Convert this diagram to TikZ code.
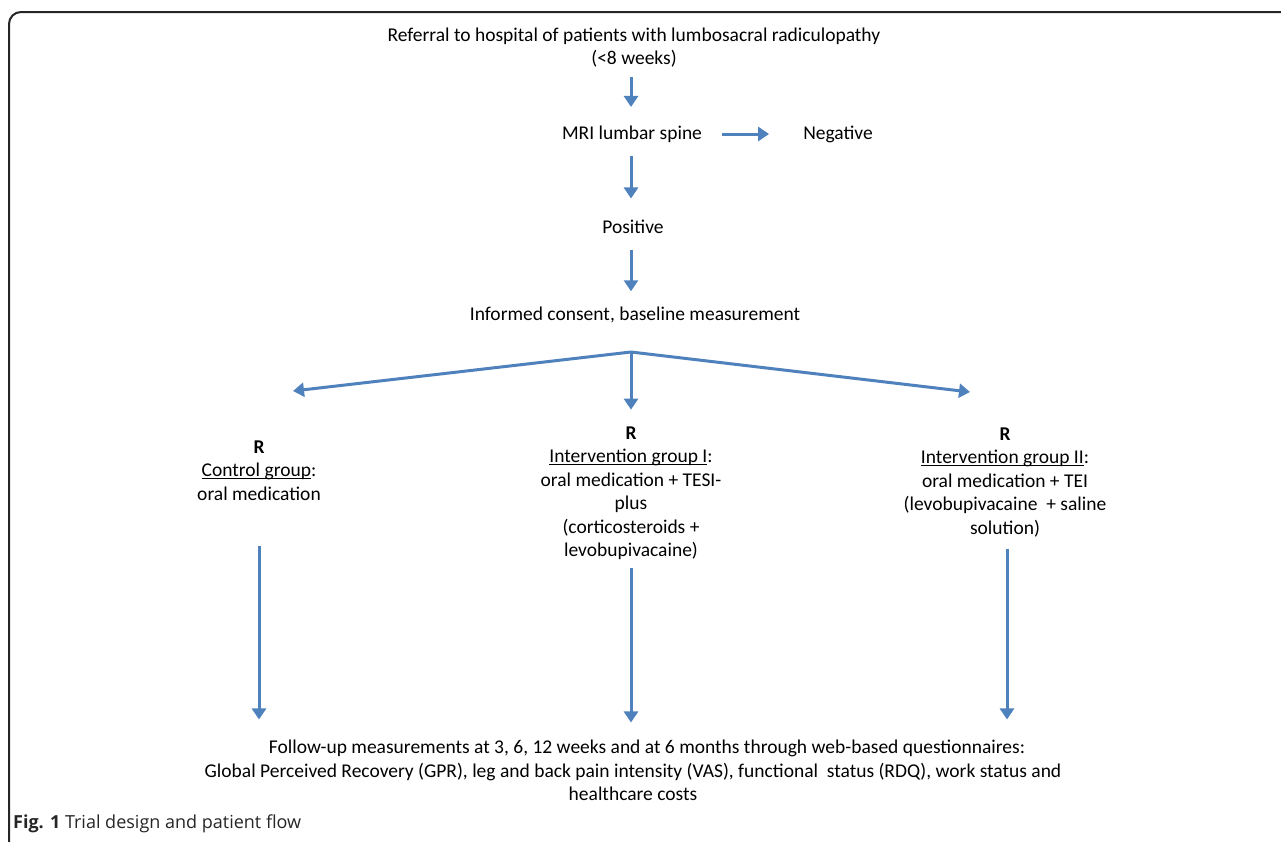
\documentclass[tikz,border=0pt]{standalone}
\usepackage{fontspec}
\setmainfont{Carlito}
\newfontfamily\capfont{Open Sans}
\usetikzlibrary{arrows.meta}
\definecolor{flowblue}{RGB}{79,129,189}
\newcommand\ulabel[1]{\underline{\smash{#1}}}
\begin{document}
\begin{tikzpicture}[x=1pt,y=-1pt,
  txt/.style={font=\fontsize{19.5}{23.5}\selectfont, inner sep=0pt, align=center},
  flow/.style={draw=flowblue, line width=3pt, -{Triangle[width=14pt,length=11pt]}},
  frame/.style={draw=black!85, line width=2pt, rounded corners=12pt}]
\useasboundingbox (0,0) rectangle (1281,841);
\draw[frame] (9,850) -- (9,12) -- (1295,12);
\node[txt] (ref) at (634,47.5) {Referral to hospital of patients with lumbosacral radiculopathy\\(<8 weeks)};
\node[txt] (mri) at (632,134) {MRI lumbar spine};
\node[txt] (neg) at (838,134) {Negative};
\node[txt] (pos) at (633,227) {Positive};
\node[txt] (ic) at (635,315) {Informed consent, baseline measurement};
\coordinate (split) at (631,352);
\coordinate (lend) at (293,391);
\coordinate (rend) at (970,392);
\node[txt] (ctrl) at (259,470.5) {\textbf{R}\\\ulabel{Control group}:\\oral medication};
\node[txt] (int1) at (631,493) {\textbf{R}\\\ulabel{Intervention group I}:\\oral medication + TESI-\\plus\\(corticosteroids +\\levobupivacaine)};
\node[txt] (int2) at (1005,482.5) {\textbf{R}\\\ulabel{Intervention group II}:\\oral medication + TEI\\(levobupivacaine~ + saline\\solution)};
\node[txt] (fu) at (633,770.5) {\hspace*{28pt}Follow-up measurements at 3, 6, 12 weeks and at 6 months through web-based questionnaires:\\Global Perceived Recovery (GPR), leg and back pain intensity (VAS), functional~ status (RDQ), work status and\\healthcare costs};
\node[anchor=base west, inner sep=0pt, font=\capfont\fontsize{18}{21}\selectfont, text=black!85] (cap) at (13,828) {\textbf{Fig. 1} Trial design and patient flow};
\draw[flow, shorten <=9.5pt, shorten >=18.5pt] (ref.south -| split) -- (mri.north -| split);
\draw[flow, shorten <=13.5pt, shorten >=21.5pt] (mri.south -| split) -- (pos.north -| split);
\draw[flow, shorten <=15.5pt, shorten >=15.5pt] (pos.south -| split) -- (ic.north -| split);
\draw[flow, shorten <=20pt, shorten >=34pt] (mri.east) -- (neg.west);
\draw[flow] (split) -- (lend);
\draw[flow] (split) -- (rend);
\draw[flow, shorten >=16.5pt] (split) -- (int1.north -| split);
\draw[flow, shorten <=45.5pt, shorten >=20.5pt] (ctrl.south) -- (ctrl.south |- fu.north);
\draw[flow, shorten <=8.5pt, shorten >=17.5pt] (int1.south) -- (int1.south |- fu.north);
\draw[flow, shorten <=11.5pt, shorten >=20.5pt] ([xshift=2pt]int2.south) -- ([xshift=2pt]int2.south |- fu.north);
\end{tikzpicture}
\end{document}
